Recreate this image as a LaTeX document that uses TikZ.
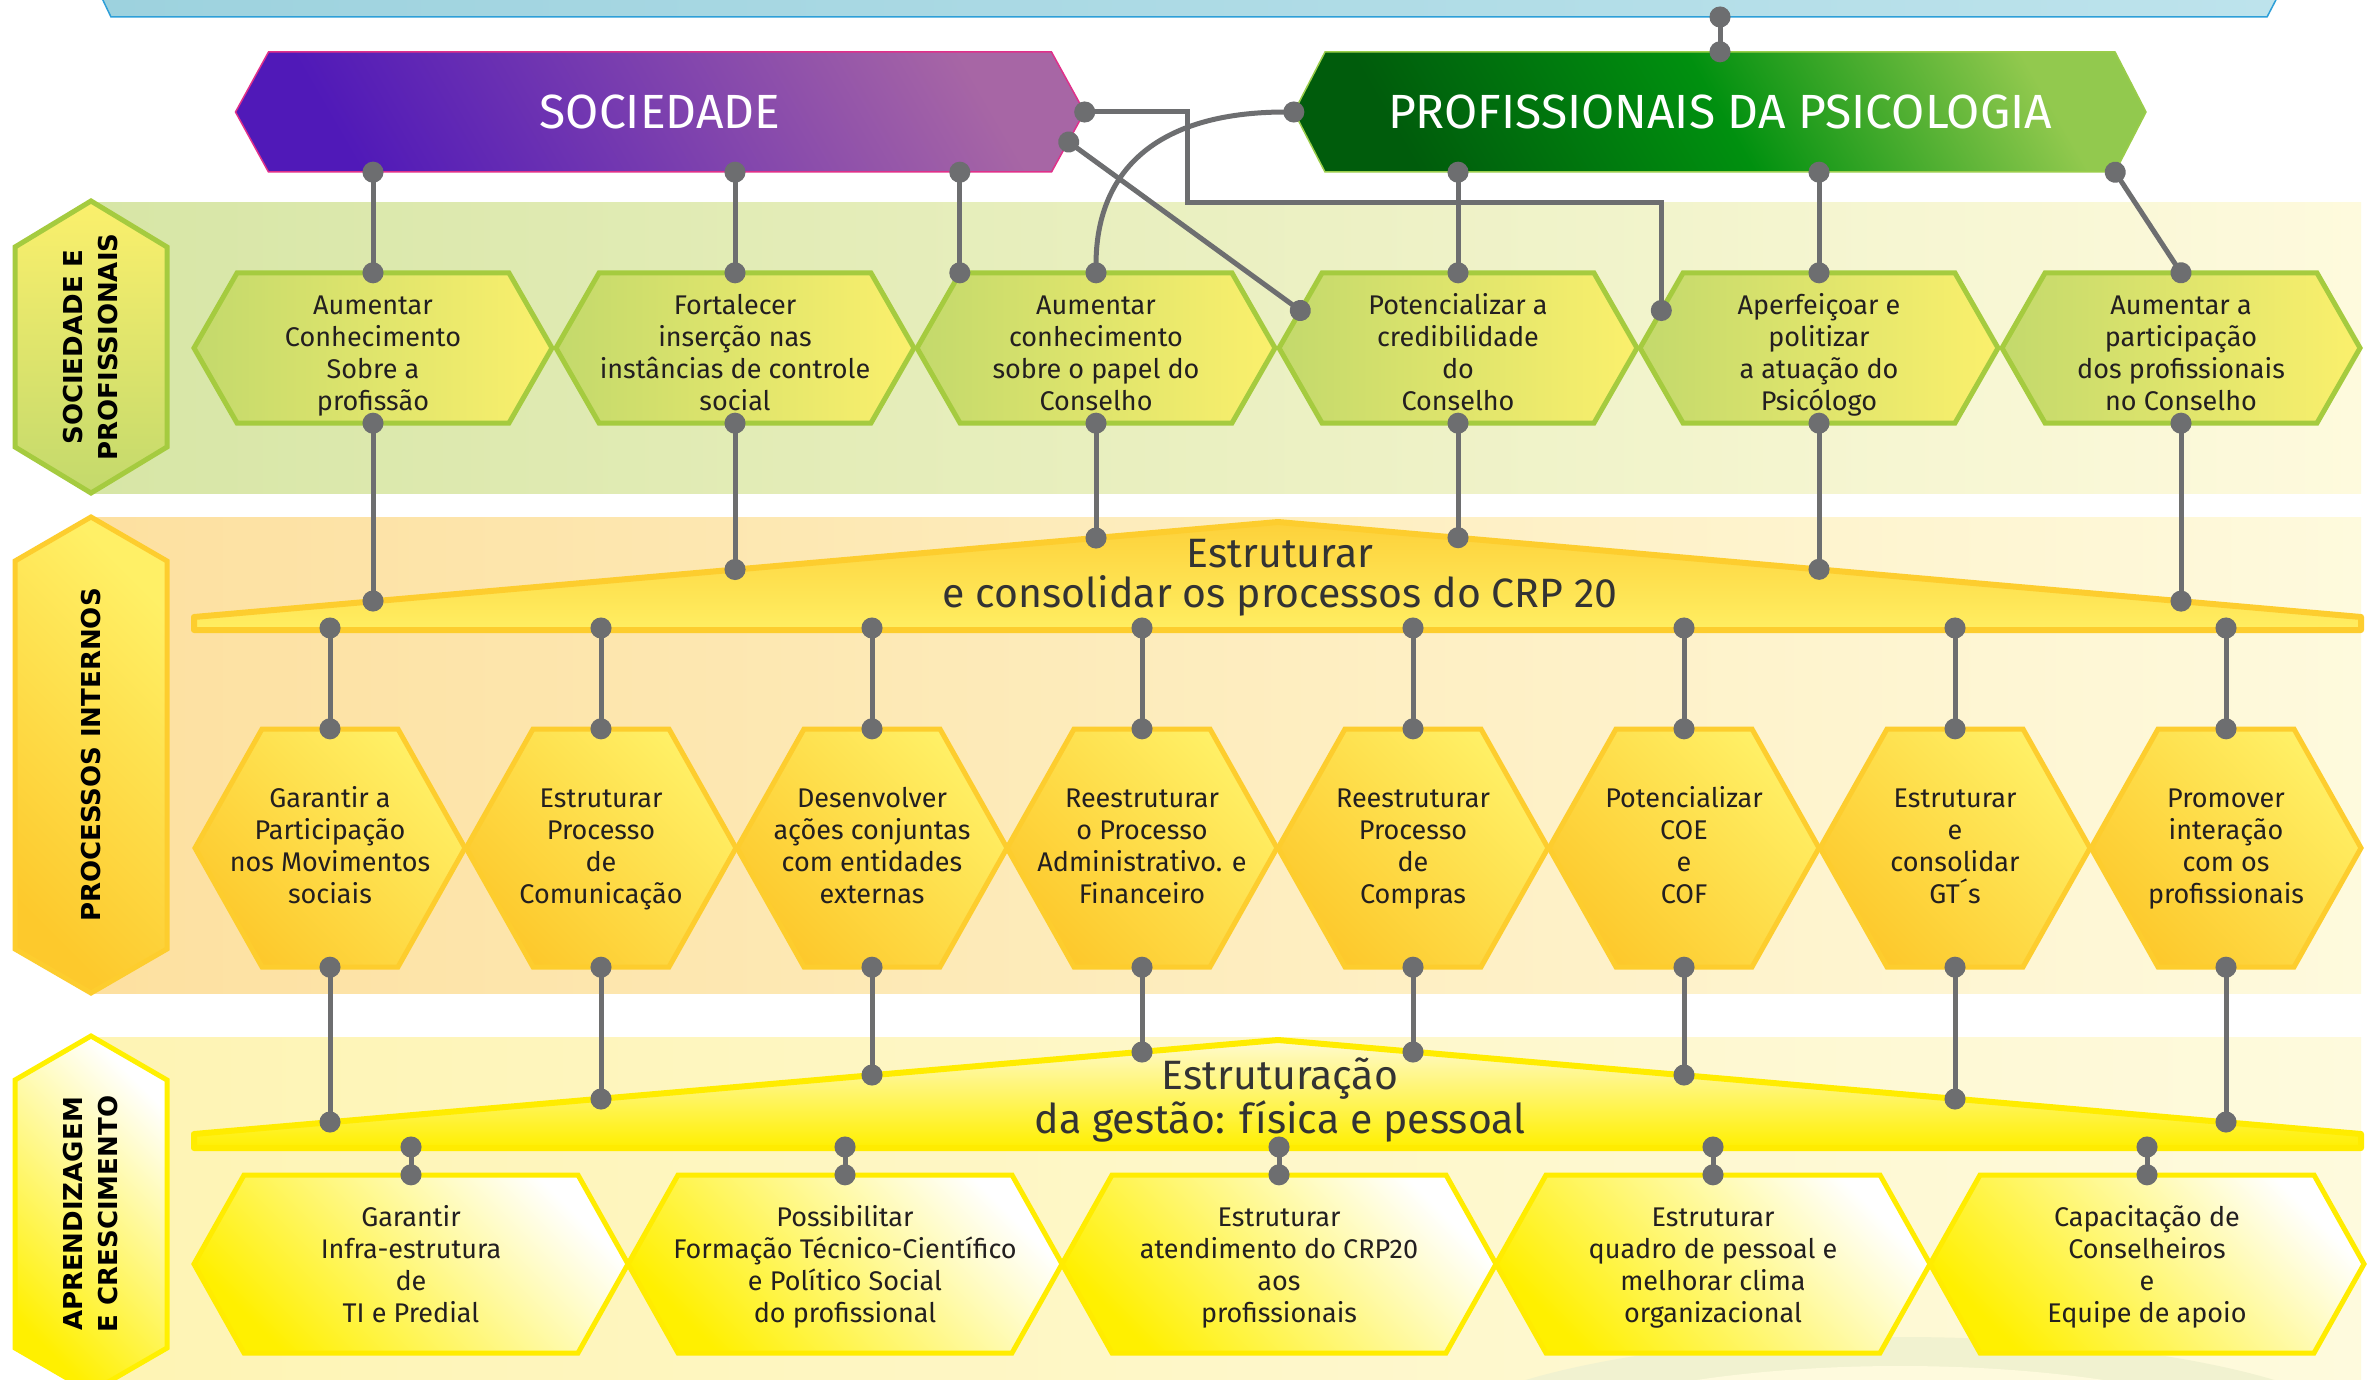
\documentclass[tikz,border=0pt]{standalone}
\usepackage{fontspec}
\setmainfont{Fira Sans}
\newfontfamily\sidefont{DejaVu Sans}
\usetikzlibrary{arrows.meta,calc}

\definecolor{linkgray}{HTML}{6D6E70}
\definecolor{inkdark}{HTML}{231F20}
\definecolor{bannerink}{HTML}{333333}
\definecolor{barblue}{HTML}{9DD2DE}
\definecolor{barlight}{HTML}{BDE3EC}
\definecolor{barline}{HTML}{2E9FD8}
\definecolor{socdark}{HTML}{5019B8}
\definecolor{soclight}{HTML}{A766A5}
\definecolor{socline}{HTML}{E0308A}
\definecolor{profdark}{HTML}{005C0C}
\definecolor{profmid}{HTML}{00900F}
\definecolor{proflight}{HTML}{92C94E}
\definecolor{profline}{HTML}{9ACD4A}
\definecolor{bandgreen}{HTML}{D7E6A6}
\definecolor{bandorange}{HTML}{FDE0A0}
\definecolor{bandyellow}{HTML}{FEF4B4}
\definecolor{bandpale}{HTML}{FEFADD}
\definecolor{glowline}{HTML}{F1F2D0}
\definecolor{greenedge}{HTML}{A5CB3F}
\definecolor{greenfill}{HTML}{C3D96C}
\definecolor{lemon}{HTML}{FBF06C}
\definecolor{goldedge}{HTML}{FDCD2E}
\definecolor{gold}{HTML}{FDC92C}
\definecolor{sun}{HTML}{FFF066}
\definecolor{yellowedge}{HTML}{FFEC00}
\definecolor{brightyellow}{HTML}{FFF000}
\definecolor{bannertop}{HTML}{FDD13A}
\definecolor{bannerlow}{HTML}{FFEE62}
\definecolor{creamtop}{HTML}{FFFAD0}

\tikzset{
  link/.style={draw=linkgray, line width=5pt,
    arrows={Circle[length=21pt,width=21pt]-Circle[length=21pt,width=21pt]},
    shorten <=-10.5pt, shorten >=-10.5pt},
  rowtext/.style={inner sep=0pt, align=center, text=inkdark,
    font=\fontsize{27}{32}\selectfont},
  textgreen/.style={rowtext, execute at begin node={\rule[-12pt]{0pt}{148.4pt}}},
  textgold/.style={rowtext, execute at begin node={\rule[-15pt]{0pt}{140.4pt}}},
  textlight/.style={rowtext, execute at begin node={\rule[-15pt]{0pt}{146.4pt}}},
  titletext/.style={inner sep=0pt, text=white, font=\fontsize{48}{56}\selectfont},
  sidetext/.style={inner sep=0pt, align=center, rotate=90, text=black,
    font=\sidefont\bfseries\fontsize{26}{35}\selectfont},
  bannertext/.style={inner sep=0pt, align=center, text=bannerink,
    font=\fontsize{41}{40}\selectfont},
  hexgreen/.style={draw=greenedge, line width=5pt, left color=greenfill, right color=lemon},
  hexgold/.style={draw=goldedge, line width=5pt, left color=gold, right color=sun, shading angle=135},
  hexlight/.style={draw=yellowedge, line width=5pt, left color=brightyellow, right color=white, shading angle=135},
  sidegreen/.style={draw=greenedge, line width=5pt, top color=lemon, bottom color=greenfill},
  sidegold/.style={draw=goldedge, line width=5pt, left color=gold, right color=sun, shading angle=135},
  sidelight/.style={draw=brightyellow, line width=5pt, left color=brightyellow, right color=white, shading angle=135},
  socshape/.style={draw=socline, line width=1.5pt, left color=socdark, right color=soclight, shading angle=120},
  profshape/.style={draw=profline, line width=1.5pt, left color=profdark, right color=proflight, middle color=profmid, shading angle=120},
}

\newcommand\hexbox[9]{%
  \path[#1] (#4-#6,#5) -- (#4-#6+#8,#5-#7) -- (#4+#6-#8,#5-#7) -- (#4+#6,#5)
    -- (#4+#6-#8,#5+#7) -- (#4-#6+#8,#5+#7) -- cycle;
  \node[#2, minimum width=2*#6, minimum height=2*#7] (#3) at (#4,#5) {#9};}
\newcommand\sidebox[8]{%
  \path[#1] (#3,#4-#6) -- (#3+#5,#4-#6+#7) -- (#3+#5,#4+#6-#7) -- (#3,#4+#6)
    -- (#3-#5,#4+#6-#7) -- (#3-#5,#4-#6+#7) -- cycle;
  \node[sidetext] (#2) at (#3,#4) {#8};}

\begin{document}
\begin{tikzpicture}[x=1pt, y=-1pt]
  \useasboundingbox (0,0) rectangle (2377,1380);
  \fill[white] (0,0) rectangle (2377,1380);

  \path[left color=bandgreen, right color=bandpale] (92,203) rectangle (2361,493);
  \path[left color=bandorange, right color=bandpale] (92,517) rectangle (2361,993);
  \path[left color=bandyellow, right color=bandpale] (92,1037) rectangle (2361,1395);
  \fill[glowline] (1900,1452) ellipse [x radius=480, y radius=115];
  \fill[bandpale] (1900,1478) ellipse [x radius=420, y radius=112];

  \path[draw=barline, line width=1.5pt, left color=barblue, right color=barlight]
    (100,-6) -- (111,17) -- (2267,17) -- (2279,-6) -- cycle;
  \coordinate (bartop) at (1720,17);

  \sidebox{sidegreen}{lab1}{91}{347}{76}{146}{46}{SOCIEDADE E\\PROFISSIONAIS}
  \sidebox{sidegold}{lab2}{91}{755}{76}{238}{44}{PROCESSOS INTERNOS}
  \sidebox{sidelight}{lab3}{91}{1214}{76}{178}{44}{APRENDIZAGEM\\E CRESCIMENTO}

  \path[draw=goldedge, line width=6pt, line join=round, top color=bannertop, bottom color=bannerlow]
    (194,630) -- (194,617) -- (1278,522) -- (2361,617) -- (2361,630) -- cycle;
  \node[bannertext] (est1) at (1280,578) {Estruturar\\e consolidar os processos do CRP 20};
  \coordinate (est1b) at (1278,628);
  \path[draw=yellowedge, line width=6pt, line join=round, top color=creamtop, bottom color=brightyellow]
    (194,1148) -- (194,1134) -- (1278,1040) -- (2361,1134) -- (2361,1148) -- cycle;
  \node[bannertext] (est2) at (1280,1100) {Estruturação\\da gestão: física e pessoal};
  \coordinate (est2b) at (1278,1147);

  \hexbox{socshape}{titletext}{soc}{660}{112}{424.5}{60}{33}{SOCIEDADE}
  \hexbox{profshape}{titletext}{prof}{1720}{112}{426}{60}{31}{PROFISSIONAIS DA PSICOLOGIA}

  \hexbox{hexgreen}{textgreen}{s1}{373}{348}{179}{75}{43}{Aumentar\\Conhecimento\\Sobre a\\profissão}
  \hexbox{hexgreen}{textgreen}{s2}{735}{348}{179}{75}{43}{Fortalecer\\inserção nas\\instâncias de controle\\social}
  \hexbox{hexgreen}{textgreen}{s3}{1096}{348}{179}{75}{43}{Aumentar\\conhecimento\\sobre o papel do\\Conselho}
  \hexbox{hexgreen}{textgreen}{s4}{1458}{348}{179}{75}{43}{Potencializar a\\credibilidade\\do\\Conselho}
  \hexbox{hexgreen}{textgreen}{s5}{1819}{348}{179}{75}{43}{Aperfeiçoar e\\politizar\\a atuação do\\Psicólogo}
  \hexbox{hexgreen}{textgreen}{s6}{2181}{348}{179}{75}{43}{Aumentar  a\\participação\\dos profissionais\\no Conselho}

  \hexbox{hexgold}{textgold}{p1}{330}{848}{135}{119}{67}{Garantir a\\Participação\\nos Movimentos\\sociais}
  \hexbox{hexgold}{textgold}{p2}{601}{848}{135}{119}{67}{Estruturar\\Processo\\de\\Comunicação}
  \hexbox{hexgold}{textgold}{p3}{872}{848}{135}{119}{67}{Desenvolver\\ações conjuntas\\com entidades\\externas}
  \hexbox{hexgold}{textgold}{p4}{1142}{848}{135}{119}{67}{Reestruturar\\o Processo\\Administrativo. e\\Financeiro}
  \hexbox{hexgold}{textgold}{p5}{1413}{848}{135}{119}{67}{Reestruturar\\Processo\\de\\Compras}
  \hexbox{hexgold}{textgold}{p6}{1684}{848}{135}{119}{67}{Potencializar\\COE\\e\\COF}
  \hexbox{hexgold}{textgold}{p7}{1955}{848}{135}{119}{67}{Estruturar\\e\\consolidar\\GT´s}
  \hexbox{hexgold}{textgold}{p8}{2226}{848}{135}{119}{67}{Promover\\interação\\com os\\profissionais}

  \hexbox{hexlight}{textlight}{q1}{411}{1264}{217}{89}{50}{Garantir\\Infra-estrutura\\de\\TI e Predial}
  \hexbox{hexlight}{textlight}{q2}{845}{1264}{217}{89}{50}{Possibilitar\\Formação Técnico-Científico\\e Político Social\\do profissional}
  \hexbox{hexlight}{textlight}{q3}{1279}{1264}{217}{89}{50}{Estruturar\\atendimento do CRP20\\aos\\profissionais}
  \hexbox{hexlight}{textlight}{q4}{1713}{1264}{217}{89}{50}{Estruturar\\quadro de pessoal e\\melhorar clima\\organizacional}
  \hexbox{hexlight}{textlight}{q5}{2147}{1264}{217}{89}{50}{Capacitação de\\Conselheiros\\e\\Equipe de apoio}

  \coordinate (s3c) at ($(s3.north west)+(43,0)$);
  \coordinate (s4e) at ($(s4.west)+(21.5,-37.5)$);
  \coordinate (s5e) at ($(s5.west)+(21.5,-37.5)$);
  \coordinate (a1) at (373,601);
  \coordinate (a2) at (735,569.5);
  \coordinate (a3) at (1096,538);
  \coordinate (a4) at (1458,537.7);
  \coordinate (a5) at (1819,569.3);
  \coordinate (a6) at (2181,601.1);
  \coordinate (b1) at (330,1122);
  \coordinate (b2) at (601,1099);
  \coordinate (b3) at (872,1075);
  \coordinate (b4) at (1142,1052);
  \coordinate (b5) at (1413,1052);
  \coordinate (b6) at (1684,1075);
  \coordinate (b7) at (1955,1099);
  \coordinate (b8) at (2226,1122);

  \draw[link] (prof.north |- bartop) -- (prof.north);
  \draw[link] (s1.north |- soc.south) -- (s1.north);
  \draw[link] (s2.north |- soc.south) -- (s2.north);
  \draw[link] (s3c |- soc.south) -- (s3c);
  \draw[link] (soc.east) -- ++(103,0) -- ++(0,91) -| (s5e);
  \draw[link] ($(soc.east)+(-16,30)$) -- (s4e);
  \draw[link] (prof.west) .. controls +(-140,0) and +(0,-100) .. (s3.north);
  \draw[link] (s4.north |- prof.south) -- (s4.north);
  \draw[link] (s5.north |- prof.south) -- (s5.north);
  \draw[link] ($(prof.south east)+(-31,0)$) -- (s6.north);

  \draw[link] (s1.south) -- (a1);
  \draw[link] (s2.south) -- (a2);
  \draw[link] (s3.south) -- (a3);
  \draw[link] (s4.south) -- (a4);
  \draw[link] (s5.south) -- (a5);
  \draw[link] (s6.south) -- (a6);

  \draw[link] (p1.north |- est1b) -- (p1.north);
  \draw[link] (p2.north |- est1b) -- (p2.north);
  \draw[link] (p3.north |- est1b) -- (p3.north);
  \draw[link] (p4.north |- est1b) -- (p4.north);
  \draw[link] (p5.north |- est1b) -- (p5.north);
  \draw[link] (p6.north |- est1b) -- (p6.north);
  \draw[link] (p7.north |- est1b) -- (p7.north);
  \draw[link] (p8.north |- est1b) -- (p8.north);

  \draw[link] (p1.south) -- (b1);
  \draw[link] (p2.south) -- (b2);
  \draw[link] (p3.south) -- (b3);
  \draw[link] (p4.south) -- (b4);
  \draw[link] (p5.south) -- (b5);
  \draw[link] (p6.south) -- (b6);
  \draw[link] (p7.south) -- (b7);
  \draw[link] (p8.south) -- (b8);

  \draw[link] (q1.north |- est2b) -- (q1.north);
  \draw[link] (q2.north |- est2b) -- (q2.north);
  \draw[link] (q3.north |- est2b) -- (q3.north);
  \draw[link] (q4.north |- est2b) -- (q4.north);
  \draw[link] (q5.north |- est2b) -- (q5.north);
\end{tikzpicture}
\end{document}
